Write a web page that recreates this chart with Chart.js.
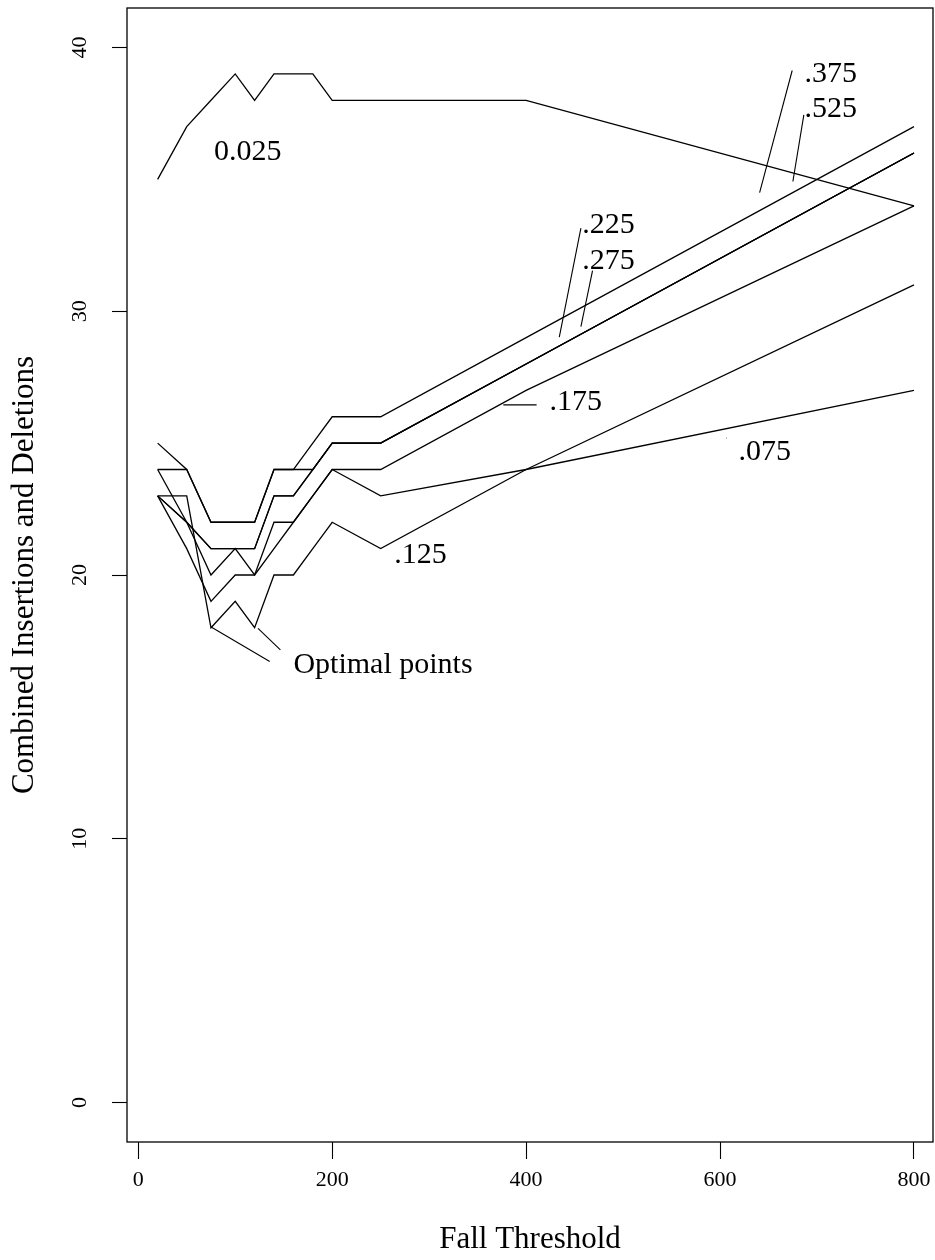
<!DOCTYPE html>
<html>
<head>
<meta charset="utf-8">
<script src="https://cdn.jsdelivr.net/npm/chart.js@4"></script>
<style>
  html, body { margin: 0; padding: 0; background: #fff; }
  canvas { display: block; }
</style>
</head>
<body>
<canvas id="chart" width="935" height="1260"></canvas>
<script>
// fall threshold values on the x axis
const thresholds = [20, 50, 75, 100, 120, 140, 160, 180, 200, 250, 400, 800];

// combined insertions + deletions, one list per rise value
const rise025 = [35, 37, 38, 39, 38, 39, 39, 39, 38, 38, 38, 34];
const rise075 = [23, 21, 19, 20, 20, 21, 22, 23, 24, 23, 24, 27];
const rise125 = [23, 23, 18, 19, 18, 20, 20, 21, 22, 21, 24, 31];
const rise175 = [24, 22, 20, 21, 20, 22, 22, 23, 24, 24, 27, 34];
const rise225 = [23, 22, 21, 21, 21, 23, 23, 24, 25, 25, 28, 36];
const rise275 = [23, 22, 21, 21, 21, 23, 23, 24, 25, 25, 28, 36];
const rise375 = [24, 24, 22, 22, 22, 24, 24, 24, 25, 25, 28, 36];
const rise525 = [25, 24, 22, 22, 22, 24, 24, 25, 26, 26, 29, 37];

const seriesNames = ['0.025', '.075', '.125', '.175', '.225', '.275', '.375', '.525'];
const seriesValues = [rise025, rise075, rise125, rise175, rise225, rise275, rise375, rise525];

const xTicks = [0, 200, 400, 600, 800];
const yTicks = [0, 10, 20, 30, 40];

// text labels written on the plot (data units, left edge / baseline)
const notes = [
  { text: '0.025', x: 78, y: 35.74 },
  { text: '.225', x: 458, y: 32.96 },
  { text: '.275', x: 458, y: 31.6 },
  { text: '.175', x: 424, y: 26.26 },
  { text: '.375', x: 687, y: 38.69 },
  { text: '.525', x: 687, y: 37.38 },
  { text: '.075', x: 619, y: 24.36 },
  { text: '.125', x: 264, y: 20.47 },
  { text: 'Optimal points', x: 160, y: 16.3 }
];

// little leader lines from the labels to the curves
const leaders = [
  [456.5, 33.15, 434.2, 29.02],
  [468.5, 31.54, 456.5, 29.42],
  [376.5, 26.45, 410.8, 26.45],
  [674.4, 39.13, 640.8, 34.5],
  [686.4, 37.45, 675.1, 34.92],
  [606.2, 25.19, 606.6, 25.19],
  [75.6, 18.02, 135.6, 16.72],
  [123.5, 17.98, 146.6, 17.16]
];

const serif = "'Liberation Serif', 'Times New Roman', serif";

const datasets = seriesNames.map((name, i) => ({
  label: name,
  data: thresholds.map((x, j) => ({ x: x, y: seriesValues[i][j] })),
  borderColor: '#000',
  borderWidth: 1.3,
  pointRadius: 0,
  tension: 0,
  fill: false
}));

const rPlotDecor = {
  id: 'rPlotDecor',
  afterDatasetsDraw(chart) {
    const { ctx, chartArea, scales } = chart;
    const xs = scales.x, ys = scales.y;
    ctx.save();
    ctx.strokeStyle = '#000';
    ctx.lineWidth = 1.3;
    ctx.strokeRect(chartArea.left, chartArea.top,
      chartArea.right - chartArea.left, chartArea.bottom - chartArea.top);

    // leader lines
    ctx.lineWidth = 1.1;
    leaders.forEach(l => {
      ctx.beginPath();
      ctx.moveTo(xs.getPixelForValue(l[0]), ys.getPixelForValue(l[1]));
      ctx.lineTo(xs.getPixelForValue(l[2]), ys.getPixelForValue(l[3]));
      ctx.stroke();
    });

    // labels
    ctx.fillStyle = '#000';
    ctx.font = '30px ' + serif;
    ctx.textAlign = 'left';
    ctx.textBaseline = 'alphabetic';
    notes.forEach(n => {
      ctx.fillText(n.text, xs.getPixelForValue(n.x), ys.getPixelForValue(n.y));
    });

    // rotated y tick labels, R style
    ctx.font = '22px ' + serif;
    ctx.textAlign = 'center';
    ctx.textBaseline = 'middle';
    yTicks.forEach(v => {
      ctx.save();
      ctx.translate(80, ys.getPixelForValue(v));
      ctx.rotate(-Math.PI / 2);
      ctx.fillText(String(v), 0, 0);
      ctx.restore();
    });
    ctx.restore();
  }
};

const config = {
  type: 'line',
  data: { datasets: datasets },
  options: {
    responsive: false,
    animation: false,
    devicePixelRatio: 1,
    layout: { padding: { top: 8, right: 2, left: 0, bottom: 0 } },
    plugins: {
      legend: { display: false },
      tooltip: { enabled: false }
    },
    scales: {
      x: {
        type: 'linear',
        min: -11.6,
        max: 819.6,
        afterBuildTicks: scale => { scale.ticks = xTicks.map(v => ({ value: v })); },
        afterFit: scale => {
          scale.height = 118;
          scale.paddingLeft = 0;
          scale.paddingRight = 0;
        },
        border: { display: false },
        grid: {
          drawOnChartArea: false,
          drawTicks: true,
          tickLength: 17,
          tickColor: '#000',
          tickWidth: 1.1
        },
        ticks: {
          color: '#000',
          font: { family: serif, size: 22 },
          padding: 8,
          maxRotation: 0,
          autoSkip: false,
          callback: v => String(v)
        },
        title: {
          display: true,
          text: 'Fall Threshold',
          color: '#000',
          font: { family: serif, size: 31 },
          padding: { top: 0, bottom: 2 }
        }
      },
      y: {
        type: 'linear',
        min: -1.5,
        max: 41.5,
        afterBuildTicks: scale => { scale.ticks = yTicks.map(v => ({ value: v })); },
        afterFit: scale => {
          scale.width = 127;
          scale.paddingTop = 0;
          scale.paddingBottom = 0;
        },
        border: { display: false },
        grid: {
          drawOnChartArea: false,
          drawTicks: true,
          tickLength: 15,
          tickColor: '#000',
          tickWidth: 1.1
        },
        ticks: { display: false },
        title: {
          display: true,
          text: 'Combined Insertions and Deletions',
          color: '#000',
          font: { family: serif, size: 31 },
          padding: { top: 6, bottom: 0 }
        }
      }
    }
  },
  plugins: [rPlotDecor]
};

const chart = new Chart(document.getElementById('chart'), config);
</script>
</body>
</html>
